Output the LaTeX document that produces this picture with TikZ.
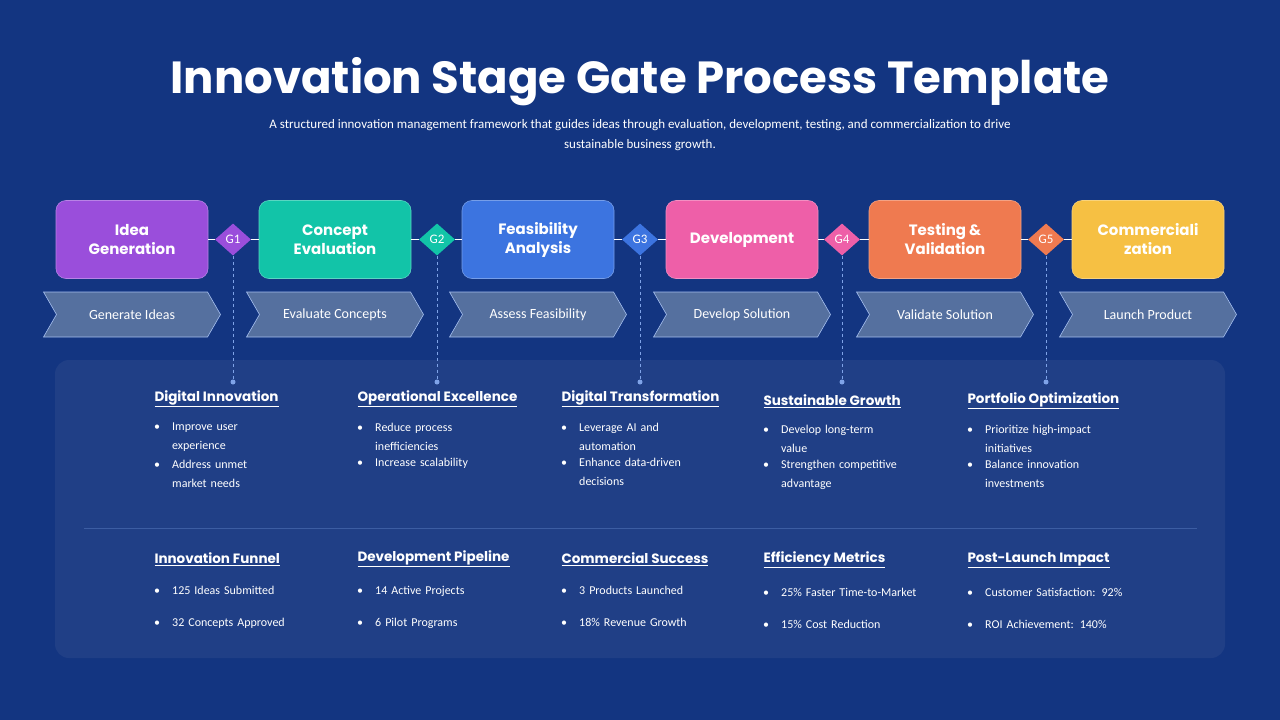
\documentclass[tikz,border=0pt]{standalone}
\usepackage{fontspec}
\setmainfont{Carlito}
\newfontfamily\head{Poppins}
\usetikzlibrary{shapes.geometric,shapes.symbols}
\definecolor{bg}{HTML}{133581}
\definecolor{panel}{HTML}{203F86}
\definecolor{cA}{HTML}{9A4EDB}
\definecolor{cB}{HTML}{12C4A8}
\definecolor{cC}{HTML}{3C74E0}
\definecolor{cD}{HTML}{EE5FA8}
\definecolor{cE}{HTML}{EF7A50}
\definecolor{cF}{HTML}{F6C043}
\definecolor{chev}{HTML}{55709F}
\definecolor{dashc}{HTML}{7FA3E8}
\begin{document}
\begin{tikzpicture}[x=1pt,y=-1pt,
 stage/.style={rounded corners=10pt,minimum width=152pt,minimum height=78pt,inner sep=0pt,align=center,text=white,font=\head\bfseries\fontsize{15}{19}\selectfont},
 gate/.style={diamond,minimum width=36pt,minimum height=32pt,inner sep=0pt,text=white,font=\fontsize{13}{13}\selectfont},
 chv/.style={signal,signal to=east,signal from=west,signal pointer angle=120,minimum width=177pt,minimum height=45pt,inner sep=0pt,fill=chev,draw=dashc!70,line width=0.6pt,text=white,font=\fontsize{14}{14}\selectfont},
 hd/.style={anchor=west,text=white,font=\head\bfseries\fontsize{13.5}{14}\selectfont},
 bl/.style={anchor=north west,text=white,align=left,text width=190pt,font=\fontsize{12}{19}\selectfont,inner sep=0pt},
 dot/.style={circle,fill=dashc,inner sep=0pt,minimum size=5pt}]
\fill[bg] (0,0) rectangle (1280,720);
\useasboundingbox (0,0) rectangle (1280,720);
\node[text=white,font=\head\bfseries\fontsize{45}{50}\selectfont] (title) at (640,82) {Innovation Stage Gate Process Template};
\node[text=white,align=center,font=\fontsize{13}{20}\selectfont] (sub) at (640,135) {A structured innovation management framework that guides ideas through evaluation, development, testing, and commercialization to drive\\sustainable business growth.};
\fill[panel,rounded corners=14pt] (55,360) rectangle (1225,658);
\draw[dashc!30!panel,line width=0.6pt] (84,528) -- (1197,528);
\foreach \i/\x/\c/\t/\ch in {1/132/cA/{Idea\\Generation}/Generate Ideas,2/335/cB/{Concept\\Evaluation}/Evaluate Concepts,3/538/cC/{Feasibility\\Analysis}/Assess Feasibility,4/742/cD/{Development}/Develop Solution,5/945/cE/{Testing \&\\Validation}/Validate Solution,6/1148/cF/{Commerciali\\zation}/Launch Product}{
 \node[stage,fill=\c,draw=\c!70!white,line width=0.6pt] (s\i) at (\x,239.5) {\t};
 \node[chv] (c\i) at (\x,314.5) {\ch};
}
\foreach \i/\x/\c in {1/233/cA,2/437/cB,3/640/cC,4/842/cD,5/1046/cE}{
 \node[gate,fill=\c] (g\i) at (\x,239.5) {G\i};
 \node[dot] (d\i) at (\x,382) {};
 \draw[dashc,dashed,line width=0.7pt] (g\i.south) -- (d\i);
}
\foreach \a/\g/\b in {1/1/2,2/2/3,3/3/4,4/4/5,5/5/6}{
 \draw[white,line width=0.8pt] (s\a.east) -- (g\g.west);
 \draw[white,line width=0.8pt] (g\g.east) -- (s\b.west);
}
\newcommand\itm[1]{\makebox[18pt][l]{\textbullet}\parbox[t]{170pt}{\raggedright\hyphenpenalty=10000 #1}}
\node[hd] (h1) at (151,399) {\underline{Digital Innovation}};
\node[hd] (h2) at (354,399) {\underline{Operational Excellence}};
\node[hd] (h3) at (558,399) {\underline{Digital Transformation}};
\node[hd] (h4) at (760,401) {\underline{Sustainable Growth}};
\node[hd] (h5) at (964,401) {\underline{Portfolio Optimization}};
\node[bl] (b1) at (154,423) {\itm{Improve user\\experience}\\[7pt]\itm{Address unmet\\market needs}};
\node[bl] (b2) at (357,423) {\itm{Reduce process\\inefficiencies}\\[7pt]\itm{Increase scalability}};
\node[bl] (b3) at (561,423) {\itm{Leverage AI and\\automation}\\[7pt]\itm{Enhance data-driven\\decisions}};
\node[bl] (b4) at (763,425) {\itm{Develop long-term\\value}\\[7pt]\itm{Strengthen competitive\\advantage}};
\node[bl] (b5) at (967,425) {\itm{Prioritize high-impact\\initiatives}\\[7pt]\itm{Balance innovation\\investments}};
\node[hd] (k1) at (151,559) {\underline{Innovation Funnel}};
\node[hd] (k2) at (354,559) {\underline{Development Pipeline}};
\node[hd] (k3) at (558,559) {\underline{Commercial Success}};
\node[hd] (k4) at (760,560) {\underline{Efficiency Metrics}};
\node[hd] (k5) at (964,560) {\underline{Post-Launch Impact}};
\node[bl] (m1) at (154,586) {\itm{125 Ideas Submitted}\\[13pt]\itm{32 Concepts Approved}};
\node[bl] (m2) at (357,586) {\itm{14 Active Projects}\\[13pt]\itm{6 Pilot Programs}};
\node[bl] (m3) at (561,586) {\itm{3 Products Launched}\\[13pt]\itm{18\% Revenue Growth}};
\node[bl] (m4) at (763,588) {\itm{25\% Faster Time-to-Market}\\[13pt]\itm{15\% Cost Reduction}};
\node[bl] (m5) at (967,588) {\itm{Customer Satisfaction: 92\%}\\[13pt]\itm{ROI Achievement: 140\%}};
\end{tikzpicture}
\end{document}
